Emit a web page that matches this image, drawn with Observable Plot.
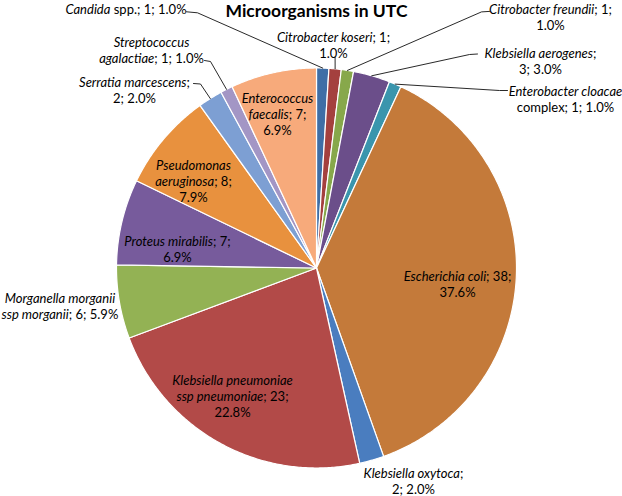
<!DOCTYPE html>
<html>
<head>
<meta charset="utf-8">
<script src="https://cdn.jsdelivr.net/npm/d3@7"></script>
<script src="https://cdn.jsdelivr.net/npm/@observablehq/plot@0.6"></script>
<style>
  html, body { margin: 0; padding: 0; background: #fff; }
</style>
</head>
<body>
<div id="chart"></div>
<script>
// ---- data ----
const title = "Microorganisms in UTC";
const categories = [
  "Candida spp.", "Citrobacter koseri", "Citrobacter freundii", "Klebsiella aerogenes",
  "Enterobacter cloacae complex", "Escherichia coli", "Klebsiella oxytoca",
  "Klebsiella pneumoniae ssp pneumoniae", "Morganella morganii ssp morganii",
  "Proteus mirabilis", "Pseudomonas aeruginosa", "Serratia marcescens",
  "Streptococcus agalactiae", "Enterococcus faecalis"
];
const counts = [1, 1, 1, 3, 1, 38, 2, 23, 6, 7, 8, 2, 1, 7];
// label text templates (_..._ = italic, \n = line break)
const labelTemplates = [
  "_Candida_ spp.; {n}; {p}",
  "_Citrobacter koseri_; {n};\n{p}",
  "_Citrobacter freundii_; {n};\n{p}",
  "_Klebsiella aerogenes_;\n{n}; {p}",
  "_Enterobacter cloacae_\ncomplex; {n}; {p}",
  "_Escherichia coli_; {n};\n{p}",
  "_Klebsiella oxytoca_;\n{n}; {p}",
  "_Klebsiella pneumoniae_\n_ssp pneumoniae_; {n};\n{p}",
  "_Morganella morganii_\n_ssp morganii_; {n}; {p}",
  "_Proteus mirabilis_; {n};\n{p}",
  "_Pseudomonas_\n_aeruginosa_; {n};\n{p}",
  "_Serratia marcescens_;\n{n}; {p}",
  "_Streptococcus_\n_agalactiae_; {n}; {p}",
  "_Enterococcus_\n_faecalis_; {n};\n{p}"
];

// ---- styles / layout (pie radius units, y up) ----
const colors = ["#3F6EA6","#A4403E","#87A84B","#6B4E8A","#3A95AD","#C47A3A","#4A7DBF",
                "#B24A48","#93B254","#775B9C","#E8913E","#7D9FD3","#A396C5","#F7AA7B"];
const labelAt = [
  [-0.9525, 1.2975], [0.085, 1.115], [1.17, 1.258], [1.12, 1.035], [1.245, 0.8475],
  [0.705, -0.0775], [0.485, -1.062], [-0.42, -0.6375], [-1.283, -0.1875],
  [-0.695, 0.0975], [-0.615, 0.4375], [-0.91, 0.89], [-0.825, 1.09], [-0.195, 0.7725]
];
const leaderFrom = [
  [[-0.65, 1.281], [-0.595, 1.276]],
  [[0.093, 1.0525]],
  [[0.865, 1.283], [0.825, 1.2805]],
  [[0.805, 1.07], [0.765, 1.0675]],
  [[0.955, 0.8875], [0.915, 0.8875]],
  null, null, null, null, null, null,
  [[-0.615, 0.9225], [-0.58, 0.92]],
  [[-0.56, 1.0375], [-0.53, 1.0325]],
  null
];

const total = d3.sum(counts);
const pct = d3.format(".1%");
const arcs = d3.pie().sort(null).value(d => d)(counts);

const slicePts = [];
arcs.forEach((a, i) => {
  const cat = categories[i];
  slicePts.push({cat, x: 0, y: 0});
  const n = Math.max(2, Math.ceil((a.endAngle - a.startAngle) / (Math.PI / 360)));
  for (let k = 0; k <= n; k++) {
    const t = a.startAngle + (a.endAngle - a.startAngle) * k / n;
    slicePts.push({cat, x: Math.sin(t), y: Math.cos(t)});
  }
  slicePts.push({cat, x: 0, y: 0});
});

const leaderPts = [];
arcs.forEach((a, i) => {
  if (!leaderFrom[i]) return;
  const cat = categories[i];
  leaderFrom[i].forEach(([x, y]) => leaderPts.push({cat, x, y}));
  const m = (a.startAngle + a.endAngle) / 2;
  leaderPts.push({cat, x: Math.sin(m), y: Math.cos(m)});
});

const labelData = categories.map((c, i) => ({
  cat: c,
  x: labelAt[i][0],
  y: labelAt[i][1],
  text: labelTemplates[i].replace("{n}", counts[i]).replace("{p}", pct(counts[i] / total))
}));

const font = "Lato, 'Open Sans', sans-serif";

const chart = Plot.plot({
  width: 622,
  height: 496,
  margin: 0,
  x: {domain: [-1.58, 1.53], axis: null},
  y: {domain: [-1.1425, 1.3375], axis: null},
  color: {domain: categories, range: colors},
  marks: [
    Plot.line(slicePts, {x: "x", y: "y", z: "cat", fill: "cat", stroke: "white", strokeWidth: 1.2}),
    Plot.line(leaderPts, {x: "x", y: "y", z: "cat", stroke: "#111", strokeWidth: 0.9}),
    Plot.text(labelData, {x: "x", y: "y", text: "text", fill: "#000",
      fontFamily: font, fontSize: 13, lineHeight: 1.23}),
    Plot.text([{x: 0, y: 1.2825, t: title}], {x: "x", y: "y", text: "t", fill: "#000",
      fontFamily: font, fontSize: 17.5, fontWeight: "bold"})
  ]
});

// italic runs
const svgNS = "http://www.w3.org/2000/svg";
function styleNode(node) {
  const s = node.textContent;
  if (!s.includes("_")) return;
  node.textContent = "";
  s.split("_").forEach((part, j) => {
    if (!part) return;
    const t = document.createElementNS(svgNS, "tspan");
    if (j % 2 === 1) t.setAttribute("font-style", "italic");
    t.textContent = part;
    node.appendChild(t);
  });
}
chart.querySelectorAll("text").forEach(tx => {
  const sp = tx.querySelectorAll(":scope > tspan");
  if (sp.length) sp.forEach(styleNode); else styleNode(tx);
});

document.getElementById("chart").appendChild(chart);
</script>
</body>
</html>
